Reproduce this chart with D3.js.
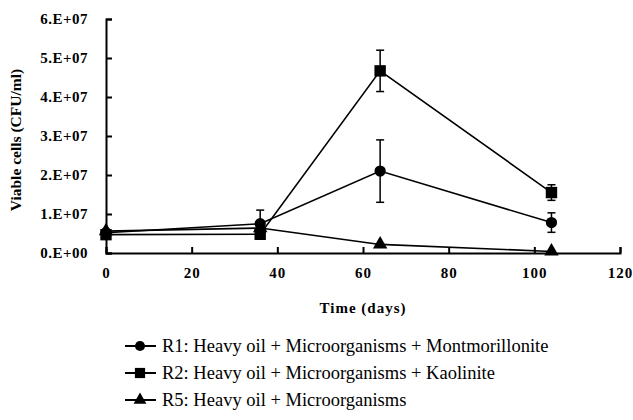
<!DOCTYPE html>
<html>
<head>
<meta charset="utf-8">
<script src="https://cdn.jsdelivr.net/npm/d3@7"></script>
<style>
  body { margin: 0; background: #fff; }
  svg text { font-family: "Liberation Serif", "Times New Roman", serif; fill: #000; }
  .axis path, .axis line { stroke: #000; stroke-width: 2; }
  .axis text { font-size: 15px; font-weight: bold; }
</style>
</head>
<body>
<svg width="633" height="420"></svg>
<script>
// values
var days = [0, 36, 64, 104];
var r1 = [5.2e6, 7.5e6, 2.1e7, 7.8e6];
var r1Err = [0, 3.5e6, 8.0e6, 2.5e6];
var r2 = [4.7e6, 4.8e6, 4.67e7, 1.55e7];
var r2Err = [0, 0, 5.3e6, 2.0e6];
var r5 = [5.6e6, 6.4e6, 2.2e6, 4e5];
var r5Err = [0, 0, 0, 0];
var xTicks = [0, 20, 40, 60, 80, 100, 120];
var yTicks = [0, 1e7, 2e7, 3e7, 4e7, 5e7, 6e7];
var seriesNames = [
  "R1: Heavy oil + Microorganisms + Montmorillonite",
  "R2: Heavy oil + Microorganisms + Kaolinite",
  "R5: Heavy oil + Microorganisms"
];

var svg = d3.select("svg"),
    margin = {top: 19, left: 106},
    width = 620 - 106,
    height = 253 - 19;

var x = d3.scaleLinear().domain([0, 120]).range([0, width]),
    y = d3.scaleLinear().domain([0, 6e7]).range([height, 0]);

var g = svg.append("g")
    .attr("transform", "translate(" + margin.left + "," + margin.top + ")");

function yFmt(d) {
  var e = d === 0 ? 0 : Math.floor(Math.log10(d));
  var m = d === 0 ? 0 : d / Math.pow(10, e);
  return m.toFixed(0) + ".E+" + (e < 10 ? "0" + e : e);
}

g.append("g").attr("class", "axis")
    .attr("transform", "translate(0," + height + ")")
    .call(d3.axisBottom(x).tickValues(xTicks).tickSizeInner(-6).tickSizeOuter(-6).tickPadding(20))
    .selectAll("text").attr("dy", "0.35em").style("letter-spacing", "1px");

g.append("g").attr("class", "axis")
    .call(d3.axisLeft(y).tickValues(yTicks).tickFormat(yFmt).tickSizeInner(-6).tickSizeOuter(-6).tickPadding(18))
    .selectAll("text").style("letter-spacing", "0.5px");

svg.append("text")
    .attr("transform", "translate(21," + (margin.top + 121) + ") rotate(-90)")
    .attr("text-anchor", "middle")
    .style("font-size", "15.5px").style("font-weight", "bold")
    .text("Viable cells (CFU/ml)");

svg.append("text")
    .attr("x", margin.left + width / 2).attr("y", 313)
    .attr("text-anchor", "middle")
    .style("font-size", "15px").style("font-weight", "bold").style("letter-spacing", "1px")
    .text("Time (days)");

var series = [
  {vals: r1, err: r1Err, shape: d3.symbolCircle, size: 100},
  {vals: r2, err: r2Err, shape: d3.symbolSquare, size: 130},
  {vals: r5, err: r5Err, shape: d3.symbolTriangle, size: 90}
];

var line = d3.line()
    .x(function(d, i) { return x(days[i]); })
    .y(function(d) { return y(d); });

series.forEach(function(s) {
  var pts = s.vals.map(function(v, i) { return {x: days[i], v: v, e: s.err[i]}; });
  var eb = g.append("g").selectAll("g")
    .data(pts.filter(function(p) { return p.e > 0; }))
    .enter().append("g").attr("stroke", "#000").attr("stroke-width", 1.5);
  eb.append("line")
    .attr("x1", function(p) { return x(p.x); }).attr("x2", function(p) { return x(p.x); })
    .attr("y1", function(p) { return y(p.v - p.e); }).attr("y2", function(p) { return y(p.v + p.e); });
  eb.append("line")
    .attr("x1", function(p) { return x(p.x) - 4; }).attr("x2", function(p) { return x(p.x) + 4; })
    .attr("y1", function(p) { return y(p.v + p.e); }).attr("y2", function(p) { return y(p.v + p.e); });
  eb.append("line")
    .attr("x1", function(p) { return x(p.x) - 4; }).attr("x2", function(p) { return x(p.x) + 4; })
    .attr("y1", function(p) { return y(p.v - p.e); }).attr("y2", function(p) { return y(p.v - p.e); });

  g.append("path")
    .datum(s.vals)
    .attr("fill", "none").attr("stroke", "#000").attr("stroke-width", 1.6)
    .attr("d", line);

  g.selectAll(null)
    .data(pts)
    .enter().append("path")
      .attr("transform", function(p) { return "translate(" + x(p.x) + "," + y(p.v) + ")"; })
      .attr("d", d3.symbol().type(s.shape).size(s.size))
      .attr("fill", "#000");
});

// legend
var leg = svg.append("g").attr("transform", "translate(125,346)");
seriesNames.forEach(function(name, i) {
  var row = leg.append("g").attr("transform", "translate(0," + i * 27 + ")");
  row.append("line").attr("x1", 0).attr("x2", 31).attr("stroke", "#000").attr("stroke-width", 2);
  row.append("path").attr("transform", "translate(15,0)")
    .attr("d", d3.symbol().type(series[i].shape).size(series[i].size * 0.8))
    .attr("fill", "#000");
  row.append("text").attr("x", 37).attr("dy", "0.35em")
    .style("font-size", "18.5px")
    .text(name);
});
</script>
</body>
</html>
